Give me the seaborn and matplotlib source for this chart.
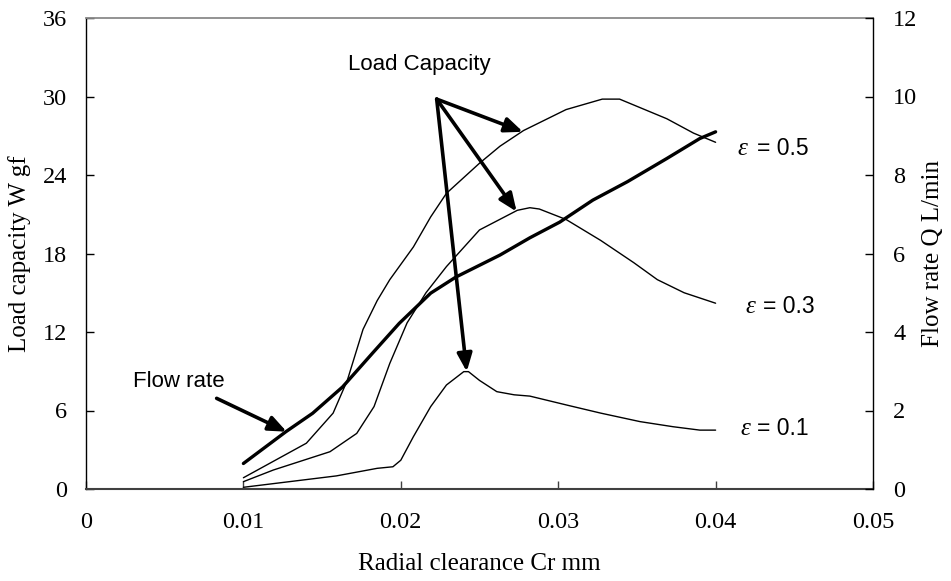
import numpy as np
import pandas as pd
import matplotlib
matplotlib.use("Agg")
import matplotlib.pyplot as plt
import seaborn as sns

# ---------------- data ----------------
# Load capacity W [gf] (left axis) for three eccentricity ratios
cr_e05 = [0.0100, 0.0140, 0.0157, 0.0166, 0.0176, 0.0185, 0.0193, 0.0208, 0.0219,
          0.0229, 0.0250, 0.0263, 0.0278, 0.0305, 0.0328, 0.0339, 0.0369, 0.0386, 0.0400]
w_e05 = [0.86, 3.5, 5.8, 8.3, 12.2, 14.4, 16.0, 18.5, 20.8,
         22.6, 24.9, 26.2, 27.4, 29.0, 29.8, 29.8, 28.3, 27.2, 26.5]

cr_e03 = [0.0100, 0.0119, 0.0155, 0.0172, 0.0183, 0.0193, 0.0204, 0.0216, 0.0229,
          0.0250, 0.0274, 0.0282, 0.0288, 0.0305, 0.0327, 0.0348, 0.0363, 0.0380, 0.0400]
w_e03 = [0.56, 1.45, 2.85, 4.25, 6.3, 9.6, 12.7, 15.0, 17.0,
         19.8, 21.3, 21.5, 21.4, 20.6, 19.0, 17.3, 16.0, 15.0, 14.2]

cr_e01 = [0.0100, 0.0159, 0.0185, 0.0195, 0.0200, 0.0208, 0.0219, 0.0229, 0.0240,
          0.0243, 0.0250, 0.0261, 0.0272, 0.0282, 0.0306, 0.0327, 0.0352, 0.0373, 0.0390, 0.0400]
w_e01 = [0.13, 1.0, 1.58, 1.7, 2.2, 4.0, 6.3, 7.95, 8.97,
         8.97, 8.3, 7.44, 7.2, 7.1, 6.4, 5.8, 5.15, 4.76, 4.5, 4.5]

# Flow rate Q [L/min] (right axis)
cr_flow = [0.0100, 0.0127, 0.0144, 0.0163, 0.0182, 0.0199, 0.0219, 0.0235,
           0.0263, 0.0282, 0.0301, 0.0322, 0.0344, 0.0369, 0.0390, 0.0400]
q_flow = [0.65, 1.46, 1.93, 2.6, 3.46, 4.22, 4.99, 5.4,
          5.96, 6.4, 6.8, 7.36, 7.83, 8.42, 8.93, 9.1]

eps_names = ["0.5", "0.3", "0.1"]

x_ticks = [0, 0.01, 0.02, 0.03, 0.04, 0.05]
x_ticklabels = ["0", "0.01", "0.02", "0.03", "0.04", "0.05"]
w_ticks = [0, 6, 12, 18, 24, 30, 36]
q_ticks = [0, 2, 4, 6, 8, 10, 12]

# ---------------- figure ----------------
sns.set_theme(style="white")
plt.rcParams["font.family"] = ["Liberation Serif", "DejaVu Serif"]

fig = plt.figure(figsize=(9.51, 5.81), dpi=100)
ax = fig.add_axes([86 / 951, 1 - 489 / 581, 787 / 951, 471 / 581])
ax.set_facecolor("white")

load_df = pd.concat([
    pd.DataFrame({"Cr": cr_e05, "W": w_e05, "eps": eps_names[0]}),
    pd.DataFrame({"Cr": cr_e03, "W": w_e03, "eps": eps_names[1]}),
    pd.DataFrame({"Cr": cr_e01, "W": w_e01, "eps": eps_names[2]}),
], ignore_index=True)

sns.lineplot(data=load_df, x="Cr", y="W", units="eps", estimator=None,
             color="black", lw=1.0, ax=ax, legend=False)

ax2 = ax.twinx()
flow_df = pd.DataFrame({"Cr": cr_flow, "Q": q_flow})
sns.lineplot(data=flow_df, x="Cr", y="Q", color="black", lw=2.4, ax=ax2, legend=False)

# axes limits / ticks
ax.set_xlim(0, 0.05)
ax.set_ylim(0, 36)
ax2.set_ylim(0, 12)
ax.set_xticks(x_ticks)
ax.set_xticklabels(x_ticklabels)
ax.set_yticks(w_ticks)
ax.set_yticklabels([str(v) for v in w_ticks])
ax2.set_yticks(q_ticks)
ax2.set_yticklabels([str(v) for v in q_ticks])

ax.tick_params(axis="x", direction="in", length=6, width=1, color="#404040",
               labelsize=17.5, pad=16.5, bottom=True, top=False, labelcolor="black")
ax.tick_params(axis="y", direction="in", length=6, width=1, color="black",
               labelsize=17.5, pad=13.5, left=True, right=False, labelcolor="black")
ax2.tick_params(axis="y", direction="in", length=6, width=1, color="black",
                labelsize=17.5, pad=14.5, right=True, left=False, labelcolor="black")

# spines
for s in ["left", "right", "top", "bottom"]:
    ax.spines[s].set_visible(True)
    ax.spines[s].set_linewidth(1.0)
ax.spines["left"].set_color("black")
ax.spines["bottom"].set_color("#404040")
ax.spines["bottom"].set_linewidth(1.5)
ax.spines["top"].set_color("#8a8a8a")
ax.spines["top"].set_linewidth(1.3)
ax.spines["right"].set_visible(False)
for s in ["left", "top", "bottom"]:
    ax2.spines[s].set_visible(False)
ax2.spines["right"].set_visible(True)
ax2.spines["right"].set_color("black")
ax2.spines["right"].set_linewidth(1.0)

# axis labels
ax.set_xlabel("Radial clearance Cr mm", fontsize=18, color="black")
ax.xaxis.set_label_coords(0.5, -0.135)
ax.set_ylabel("Load capacity W gf", fontsize=18, color="black")
ax.yaxis.set_label_coords(-0.070, 0.5)
ax2.set_ylabel("Flow rate Q L/min", fontsize=18, color="black")
ax2.yaxis.set_label_coords(1.0623, 0.5)

# annotations
sans = ["Liberation Sans", "DejaVu Sans"]
arrow_kw = dict(arrowstyle="-|>,head_length=0.6,head_width=0.25", mutation_scale=18,
                lw=2.6, color="black", shrinkA=0, shrinkB=0)

ax.text(0.02116, 32.03, "Load Capacity", family=sans, fontsize=16,
        ha="center", va="baseline", color="black")
tail = (0.02228, 29.8)
for head in [(0.02776, 27.3), (0.02736, 21.2), (0.02419, 8.97)]:
    ax.annotate("", xy=head, xytext=tail, arrowprops=arrow_kw)

ax.text(0.00299, 7.80, "Flow rate", family=sans, fontsize=16,
        ha="left", va="baseline", color="black")
ax.annotate("", xy=(0.01275, 4.38), xytext=(0.0083, 6.93), arrowprops=arrow_kw)

eps_label_pos = [(0.04142, 0.04263, 25.53), (0.04187, 0.04301, 13.45), (0.04155, 0.04263, 4.13)]
for name, (xe, xv, yb) in zip(eps_names, eps_label_pos):
    ax.text(xe, yb, "ε", family=["Liberation Serif", "DejaVu Serif"], style="italic",
            fontsize=18, ha="left", va="baseline", color="black")
    ax.text(xv, yb, "= " + name, family=sans, fontsize=16.5,
            ha="left", va="baseline", color="black")

fig.savefig("out.png", dpi=100, facecolor="white")
